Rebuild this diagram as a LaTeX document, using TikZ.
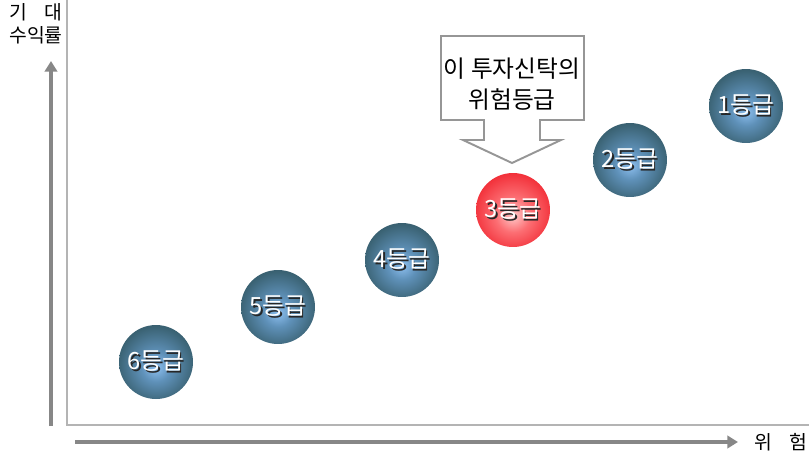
\documentclass[tikz,border=0pt]{standalone}
\usepackage{fontspec}
\newfontfamily\kr{Noto Sans CJK KR}
\usetikzlibrary{arrows.meta}

\definecolor{axisgray}{RGB}{135,135,135}
\definecolor{framegray}{RGB}{180,180,180}
\definecolor{boxgray}{RGB}{150,150,150}
\pgfdeclareradialshading{blueball}{\pgfpoint{0bp}{-4bp}}{%
  color(0bp)=(rgb,255:red,140;green,190;blue,238);
  color(10bp)=(rgb,255:red,95;green,145;blue,185);
  color(26bp)=(rgb,255:red,58;green,98;blue,115);
  color(44bp)=(rgb,255:red,38;green,64;blue,76);
  color(50bp)=(rgb,255:red,34;green,58;blue,70)}
\pgfdeclareradialshading{redball}{\pgfpoint{0bp}{-4bp}}{%
  color(0bp)=(rgb,255:red,255;green,200;blue,200);
  color(12bp)=(rgb,255:red,252;green,110;blue,115);
  color(30bp)=(rgb,255:red,240;green,35;blue,45);
  color(50bp)=(rgb,255:red,225;green,15;blue,25)}
\newcommand{\gradetxt}[1]{\makebox[0pt][l]{\kern0.8pt\raisebox{-0.8pt}{\color{black!85}#1}}{\color{white}#1}}

\begin{document}
\begin{tikzpicture}[x=0.02cm, y=-0.02cm,
    ball/.style={circle, minimum size=1.48cm, inner sep=0pt, shade, shading=blueball,
                 font=\kr\fontsize{13.5}{15}\selectfont},
    axis arrow/.style={axisgray, line width=2.3pt, -{Triangle[length=6pt, width=7pt]}},
    axis label/.style={font=\kr\fontsize{11}{13}\selectfont, align=center}]
    \useasboundingbox (0,0) rectangle (809,454);

    % Frame
    \draw[framegray, line width=0.9pt] (67,0) -- (67,425) -- (809,425);

    % Axes
    \coordinate (ybase) at (51,426);
    \coordinate (ytip) at (51,61);
    \coordinate (xbase) at (75,442);
    \coordinate (xtip) at (738,442);
    \draw[axis arrow] (ybase) -- (ytip);
    \draw[axis arrow] (xbase) -- (xtip);
    \node[axis label] (ylabel) at (36,24) {기\hspace{0.9em}대\\수익률};
    \node[axis label] (xlabel) at (781,442) {위\hspace{0.9em}험};

    % Grades
    \node[ball] (g6) at (156,362) {\gradetxt{6등급}};
    \node[ball] (g5) at (278,307) {\gradetxt{5등급}};
    \node[ball] (g4) at (402,260) {\gradetxt{4등급}};
    \node[ball, shading=redball] (g3) at (513,210) {\gradetxt{3등급}};
    \node[ball] (g2) at (630,160) {\gradetxt{2등급}};
    \node[ball] (g1) at (746,106) {\gradetxt{1등급}};

    % Callout
    \draw[boxgray, fill=white, line width=1.1pt, line join=miter]
        (441,36) -- (584,36) -- (584,120) -- (540,120) -- (540,140) -- (561,140)
        -- (512,163) -- (463,140) -- (484,140) -- (484,120) -- (441,120) -- cycle;
    \node[font=\kr\fontsize{13.5}{18}\selectfont, align=center] (callout) at (512,84)
        {이 투자신탁의\\위험등급};
\end{tikzpicture}
\end{document}
